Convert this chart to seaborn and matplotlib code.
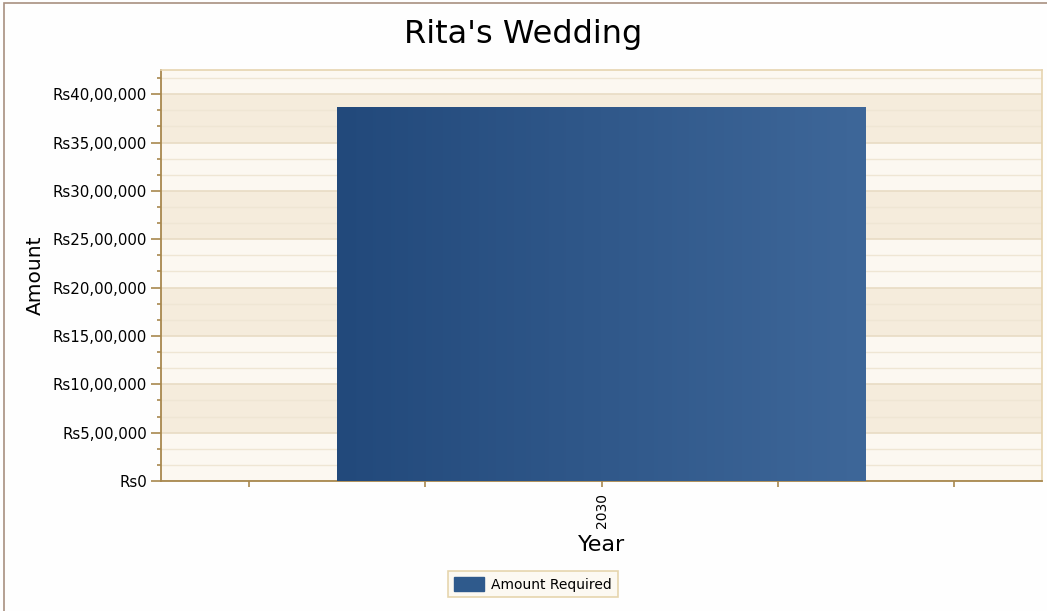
import numpy as np
import pandas as pd
import seaborn as sns
import matplotlib.pyplot as plt
import matplotlib.ticker as mticker
from matplotlib.patches import Rectangle, Patch

# data
years = ['2030']
amount = [3865000]
series_name = 'Amount Required'

df = pd.DataFrame({'Year': years, 'Amount': amount})


def inr(v, pos=None):
    # indian style grouping: 40,00,000
    v = int(round(v))
    s = str(v)
    if len(s) > 3:
        head, tail = s[:-3], s[-3:]
        parts = []
        while len(head) > 2:
            parts.insert(0, head[-2:])
            head = head[:-2]
        if head:
            parts.insert(0, head)
        s = ','.join(parts) + ',' + tail
    return 'Rs' + s


sns.set_style('white')
plt.rcParams['font.family'] = ['DejaVu Sans']
plt.rcParams['text.color'] = 'black'
plt.rcParams['axes.labelcolor'] = 'black'
plt.rcParams['xtick.color'] = 'black'
plt.rcParams['ytick.color'] = 'black'
gold = '#a8884e'

fig = plt.figure(figsize=(10.47, 6.11), dpi=100)
fig.patch.set_facecolor('#fefefe')
ax = fig.add_axes([0.1538, 0.2128, 0.8414, 0.6726])

sns.barplot(data=df, x='Year', y='Amount', width=0.6, color='#2f5a8c', ax=ax,
            edgecolor='none', zorder=3)

ax.set_xlim(-0.5, 0.5)
ax.set_ylim(0, 4250000)

# alternating bands + grid
step = 500000
for i, lo in enumerate(np.arange(0, 4500000, step)):
    ax.axhspan(lo, lo + step, color='#f5ecdc' if i % 2 else '#fcf8f1', zorder=0, lw=0)
ax.yaxis.set_major_locator(mticker.MultipleLocator(step))
ax.yaxis.set_minor_locator(mticker.MultipleLocator(step / 3))
ax.yaxis.set_major_formatter(mticker.FuncFormatter(inr))
ax.grid(True, axis='y', which='minor', color='#efe6d4', lw=1, zorder=1)
ax.grid(True, axis='y', which='major', color='#e8dcc4', lw=1.2, zorder=1)
ax.set_axisbelow(True)

# gradient fill of the bar
bar = ax.patches[0]
x0, w = bar.get_x(), bar.get_width()
h = bar.get_height()
grad = np.linspace(0, 1, 256).reshape(1, -1)
cmap = plt.matplotlib.colors.LinearSegmentedColormap.from_list('g', ['#22497b', '#3e6799'])
im = ax.imshow(grad, extent=[x0, x0 + w, 0, h], aspect='auto', cmap=cmap, zorder=4)
im.set_clip_path(bar)
ax.set_xlim(-0.5, 0.5)
ax.set_ylim(0, 4250000)

ax.xaxis.set_minor_locator(mticker.FixedLocator([-0.4, -0.2, 0.2, 0.4]))
ax.tick_params(axis='both', which='both', direction='out', color=gold, width=1.2,
               left=True, bottom=True)
ax.tick_params(axis='y', which='major', length=7, labelsize=10.8, pad=3)
ax.tick_params(axis='y', which='minor', length=3)
ax.tick_params(axis='x', which='both', length=4, labelsize=10, pad=5)
plt.setp(ax.get_xticklabels(), rotation=90)

for s in ['left', 'bottom']:
    ax.spines[s].set_color(gold)
    ax.spines[s].set_linewidth(1.3)
for s in ['top', 'right']:
    ax.spines[s].set_color('#e6d4b0')
    ax.spines[s].set_linewidth(1.2)

ax.set_xlabel('Year', fontsize=16, labelpad=5)
ax.set_ylabel('Amount', fontsize=14.5, labelpad=6)
fig.text(0.5, 0.943, "Rita's Wedding", ha='center', va='center', fontsize=23)

leg = fig.legend(handles=[Patch(facecolor='#2f5a8c', edgecolor='#2f5a8c', label=series_name)],
                 loc='center', bbox_to_anchor=(0.509, 0.044), frameon=True, fancybox=False,
                 fontsize=10, handlelength=2.2, handleheight=1.2, borderpad=0.4,
                 handletextpad=0.5)
leg.get_frame().set_edgecolor('#e0cc9c')
leg.get_frame().set_facecolor('#fcf8f0')
leg.get_frame().set_linewidth(1.2)

# outer frame (left and top edges)
fig.add_artist(Rectangle((0.004, -0.01), 1.2, 1.005, transform=fig.transFigure,
                         fill=False, edgecolor='#a89080', lw=1.2))

plt.savefig('out.png', dpi=100)
